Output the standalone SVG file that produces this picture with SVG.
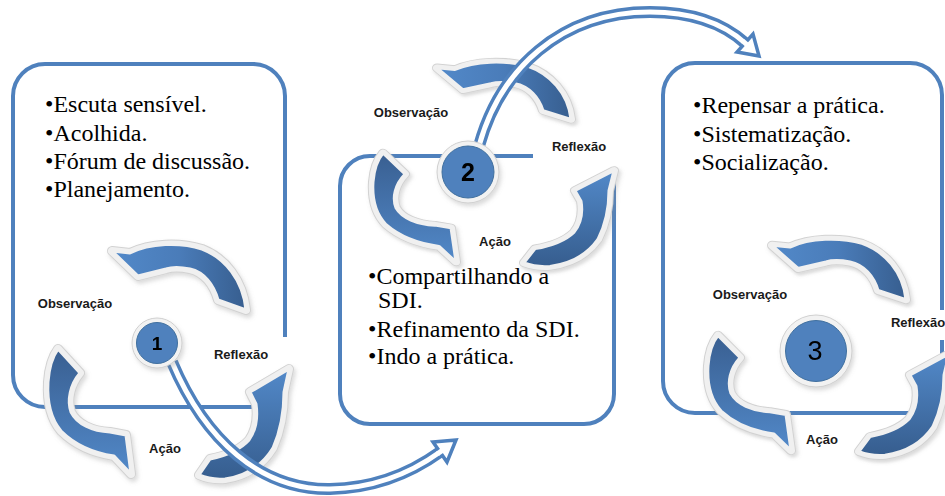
<svg xmlns="http://www.w3.org/2000/svg" xmlns:xlink="http://www.w3.org/1999/xlink" width="945" height="496" viewBox="0 0 945 496">
<style>
.box{fill:none;stroke:#4F81BD;stroke-width:4}
.txt{font-family:"Liberation Serif","Times New Roman",serif;font-size:24px;fill:#000}
.lbl{font-family:"Liberation Sans",Arial,sans-serif;font-size:13px;font-weight:bold;fill:#1a1a1a;text-anchor:middle}
.bg{fill:#fff}
.rimo{fill:#d2d2d2;stroke:#d2d2d2;stroke-width:10;stroke-linejoin:round}
.rimi{fill:#f2f2f2;stroke:#f0f0f0;stroke-width:8;stroke-linejoin:round}
.face{stroke:#f0f0f0;stroke-width:3;stroke-linejoin:round}
.con{fill:none;stroke:#4F81BD;stroke-width:12}
.coni{fill:none;stroke:#fff;stroke-width:5}
.head{fill:#fff;stroke:#4F81BD;stroke-width:3.5;stroke-linejoin:miter}
.rim{fill:#f2f2f2;stroke:#d0d0d0;stroke-width:1}
.dot{fill:#4F81BD;stroke:#41709f;stroke-width:1}
.num{font-family:"Liberation Sans",Arial,sans-serif;fill:#000;text-anchor:middle}
</style>
<defs>
<filter id="sh" x="-20%" y="-20%" width="140%" height="140%">
<feDropShadow dx="2" dy="3" stdDeviation="2" flood-color="#888" flood-opacity="0.3"/>
</filter>
<linearGradient id="gTop" x1="0" y1="0" x2="1" y2="0">
<stop offset="0" stop-color="#5289c9"/><stop offset="0.5" stop-color="#4a7cb9"/><stop offset="1" stop-color="#375e8f"/>
</linearGradient>
<linearGradient id="gLeft" x1="0" y1="0" x2="0" y2="1">
<stop offset="0" stop-color="#395f91"/><stop offset="1" stop-color="#5289c9"/>
</linearGradient>
<linearGradient id="gRight" x1="0" y1="0" x2="0" y2="1">
<stop offset="0" stop-color="#5289c9"/><stop offset="1" stop-color="#365d8e"/>
</linearGradient>
<path id="a1" d="M112,251 L130,253 C150,243 180,242 202,249 C225,258 243,280 246,310 L218,300 C214,285 204,272 190,269 C180,267 172,267 166,269 L138,276 Z"/>
<path id="a2" d="M58,349 L80,373 C70,385 67,400 71,412 C77,424 92,431 110,432 L126,435 L131,474 L114,456 C94,453 75,445 61,431 C50,418 47,400 48,382 C49,368 52,357 58,349 Z"/>
<path id="a3" d="M199,475 L210,459 C225,456 240,450 249,440 C256,430 258,418 256,404 L250,392 L289,369 L284,392 C284,412 281,430 273,448 C262,466 245,476 225,479 C214,480 206,478 199,475 Z"/>
<g id="cyc">
<g filter="url(#sh)">
<use xlink:href="#a1" class="rimo"/><use xlink:href="#a2" class="rimo"/><use xlink:href="#a3" class="rimo"/>
</g>
<use xlink:href="#a1" class="rimi"/><use xlink:href="#a2" class="rimi"/><use xlink:href="#a3" class="rimi"/>
<use xlink:href="#a1" class="face" fill="url(#gTop)"/>
<use xlink:href="#a2" class="face" fill="url(#gLeft)"/>
<use xlink:href="#a3" class="face" fill="url(#gRight)"/>
</g>
</defs>

<g id="box1">
<rect class="box" x="13" y="64" width="272" height="343" rx="32"/>
<text class="txt" x="45" y="112">•Escuta sensível.</text>
<text class="txt" x="45" y="141">•Acolhida.</text>
<text class="txt" x="45" y="169">•Fórum de discussão.</text>
<text class="txt" x="45" y="197">•Planejamento.</text>
</g>
<g id="box2">
<rect class="box" x="340" y="156" width="274" height="268" rx="30"/>
<text class="txt" x="368" y="284">•Compartilhando a</text>
<text class="txt" x="378" y="308">SDI.</text>
<text class="txt" x="368" y="337">•Refinamento da SDI.</text>
<text class="txt" x="368" y="364">•Indo a prática.</text>
</g>
<g id="box3">
<rect class="box" x="663" y="63" width="279" height="350" rx="32"/>
<text class="txt" x="693" y="113">•Repensar a prática.</text>
<text class="txt" x="693" y="142">•Sistematização.</text>
<text class="txt" x="693" y="170">•Socialização.</text>
</g>

<g id="cycle1">
<rect class="bg" x="203" y="337" width="90" height="32"/>
<text class="lbl" x="75" y="308">Observação</text>
<text class="lbl" x="241" y="359">Reflexão</text>
<text class="lbl" x="165" y="453">Ação</text>
<use xlink:href="#cyc"/>
</g>
<g id="cycle2">
<rect class="bg" x="533" y="128" width="97" height="44"/>
<text class="lbl" x="411" y="117">Observação</text>
<text class="lbl" x="579" y="151">Reflexão</text>
<text class="lbl" x="495" y="246">Ação</text>
<use xlink:href="#cyc" transform="matrix(1,0,0,0.87,325,-150.5)"/>
</g>
<g id="cycle3">
<rect class="bg" x="885" y="310" width="60" height="30"/>
<text class="lbl" x="750" y="299">Observação</text>
<text class="lbl" x="918" y="327">Reflexão</text>
<text class="lbl" x="822" y="444">Ação</text>
<use xlink:href="#cyc" transform="matrix(1,0,0,0.92,660,14.4)"/>
</g>

<g id="connectors">
<path class="con" d="M172,362 C205,440 260,490 330,489 C380,488 415,470 440,452"/>
<path class="coni" d="M172,362 C205,440 260,490 330,489 C380,488 415,470 440,452"/>
<polygon class="head" points="433,442 456,440 447,462"/>
<line class="coni" x1="437.6" y1="453.7" x2="442.6" y2="450.1"/>
<path class="con" d="M479,146 C500,70 560,12 650,12 C695,12 725,25 745,43"/>
<path class="coni" d="M479,146 C500,70 560,12 650,12 C695,12 725,25 745,43"/>
<polygon class="head" points="737,52 759,56 753,34"/>
<line class="coni" x1="742.8" y1="41" x2="747.4" y2="45.2"/>
</g>

<g id="node1" filter="url(#sh)">
<circle class="rim" cx="157" cy="343" r="25"/>
<circle class="dot" cx="157" cy="343" r="20.5"/>
<text class="num" x="157" y="350" font-size="19" font-weight="bold">1</text>
</g>
<g id="node2" filter="url(#sh)">
<circle class="rim" cx="468" cy="172" r="31"/>
<circle class="dot" cx="468" cy="172" r="26"/>
<text class="num" x="468" y="181" font-size="25" font-weight="bold">2</text>
</g>
<g id="node3" filter="url(#sh)">
<circle class="rim" cx="816" cy="351" r="36"/>
<circle class="dot" cx="816" cy="351" r="30.5"/>
<text class="num" x="815" y="360" font-size="27">3</text>
</g>
</svg>
